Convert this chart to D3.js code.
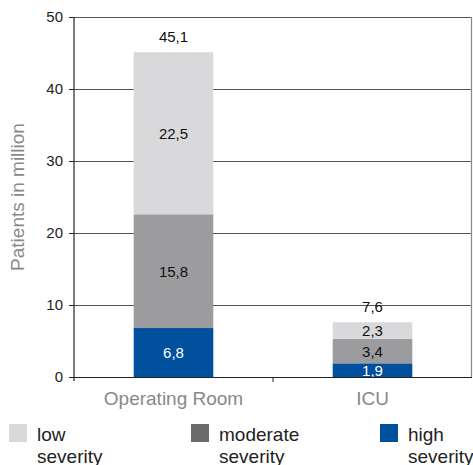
<!DOCTYPE html>
<html>
<head>
<meta charset="utf-8">
<script src="https://cdn.jsdelivr.net/npm/d3@7"></script>
<style>
  body { margin: 0; background: #fff; }
  text { font-family: "Liberation Sans", Arial, sans-serif; }
</style>
</head>
<body>
<div id="chart"></div>
<script>
// data
const categories = ["Operating Room", "ICU"];
const severities = ["high", "moderate", "low"];
const highValues = [6.8, 1.9];
const moderateValues = [15.8, 3.4];
const lowValues = [22.5, 2.3];
const totals = [45.1, 7.6];
const yTicks = [0, 10, 20, 30, 40, 50];
const legendLabels = [["low", "severity"], ["moderate", "severity"], ["high", "severity"]];

const barColors = { high: "#00509e", moderate: "#9c9c9e", low: "#d9d9db" };
const legendColors = ["#d9d9db", "#6b6b6d", "#00509e"];
const labelColors = { high: "#fff", moderate: "#111", low: "#111" };

const width = 473, height = 465;
const margin = { top: 17, right: 1, bottom: 88, left: 74 };

const svg = d3.select("#chart").append("svg")
    .attr("width", width)
    .attr("height", height);

const x = d3.scaleBand()
    .domain(categories)
    .range([margin.left, width - margin.right])
    .paddingInner(0.6)
    .paddingOuter(0.3);

const y = d3.scaleLinear()
    .domain([0, 50])
    .range([height - margin.bottom, margin.top]);

// gridlines
svg.selectAll(".grid")
    .data(yTicks.slice(1))
    .enter()
    .append("line")
    .attr("x1", margin.left)
    .attr("x2", width - margin.right)
    .attr("y1", d => y(d) + 0.5)
    .attr("y2", d => y(d) + 0.5)
    .style("stroke", "#555")
    .style("stroke-width", 1.2);

// right border
svg.append("line")
    .attr("x1", width - 1.5).attr("x2", width - 1.5)
    .attr("y1", y(50)).attr("y2", y(0))
    .style("stroke", "#888")
    .style("stroke-width", 1.2);

// stacked data
const rows = categories.map((c, i) => ({ cat: c, high: highValues[i], moderate: moderateValues[i], low: lowValues[i] }));
const stack = d3.stack().keys(severities)(rows);

const layers = svg.selectAll(".layer")
    .data(stack)
    .enter()
    .append("g")
    .attr("fill", d => barColors[d.key]);

layers.selectAll("rect")
    .data(d => d.map(p => Object.assign(p, { key: d.key })))
    .enter()
    .append("rect")
    .attr("x", d => x(d.data.cat))
    .attr("width", x.bandwidth())
    .attr("y", d => y(d[1]))
    .attr("height", d => y(d[0]) - y(d[1]));

// segment labels
layers.selectAll("text")
    .data(d => d)
    .enter()
    .append("text")
    .attr("x", d => x(d.data.cat) + x.bandwidth() / 2)
    .attr("y", d => (y(d[0]) + y(d[1])) / 2 + 5.5)
    .attr("text-anchor", "middle")
    .style("font-size", "15px")
    .style("fill", d => labelColors[d.key])
    .text(d => d3.format(".1f")(d.data[d.key]).replace(".", ","));

// totals
svg.selectAll(".total")
    .data(categories)
    .enter()
    .append("text")
    .attr("x", d => x(d) + x.bandwidth() / 2)
    .attr("y", (d, i) => y(totals[i]) - 10)
    .attr("text-anchor", "middle")
    .style("font-size", "15px")
    .style("fill", "#111")
    .text((d, i) => d3.format(".1f")(totals[i]).replace(".", ","));

// y axis
const yAxis = svg.append("g")
    .attr("transform", `translate(${margin.left},0)`)
    .call(d3.axisLeft(y).tickValues(yTicks).tickSize(5).tickPadding(6));
yAxis.select(".domain").attr("d", `M0,${y(50)}V${y(0) + 4}`).style("stroke", "#222").style("stroke-width", 1.2);
yAxis.selectAll(".tick line").style("stroke", "#222");
yAxis.selectAll(".tick text").style("font-size", "15px").style("fill", "#222")
    .style("font-family", "Liberation Sans, Arial, sans-serif");

// x axis
const xAxis = svg.append("g")
    .attr("transform", `translate(0,${y(0)})`);
xAxis.append("line")
    .attr("x1", margin.left).attr("x2", width - 1)
    .attr("y1", 0.5).attr("y2", 0.5)
    .style("stroke", "#222").style("stroke-width", 1.2);
xAxis.append("line")
    .attr("x1", (x("Operating Room") + x.bandwidth() + x("ICU")) / 2)
    .attr("x2", (x("Operating Room") + x.bandwidth() + x("ICU")) / 2)
    .attr("y1", 0).attr("y2", 5)
    .style("stroke", "#222");
xAxis.selectAll(".cat")
    .data(categories)
    .enter()
    .append("text")
    .attr("x", d => x(d) + x.bandwidth() / 2)
    .attr("y", 28)
    .attr("text-anchor", "middle")
    .style("font-size", "19px")
    .style("fill", "#888")
    .text(d => d);

// y label
svg.append("text")
    .attr("transform", `translate(24,${(y(0) + y(50)) / 2}) rotate(-90)`)
    .attr("text-anchor", "middle")
    .style("font-size", "19px")
    .style("fill", "#888")
    .text("Patients in million");

// legend
const legendX = [9, 191, 380];
const legend = svg.selectAll(".legend")
    .data(legendLabels)
    .enter()
    .append("g")
    .attr("transform", (d, i) => `translate(${legendX[i]},424)`);
legend.append("rect")
    .attr("width", 18).attr("height", 18)
    .attr("fill", (d, i) => legendColors[i]);
legend.append("text")
    .attr("x", 28).attr("y", 17)
    .style("font-size", "19px")
    .style("fill", "#222")
    .text(d => d[0]);
legend.append("text")
    .attr("x", 28).attr("y", 39)
    .style("font-size", "19px")
    .style("fill", "#222")
    .text(d => d[1]);
</script>
</body>
</html>
